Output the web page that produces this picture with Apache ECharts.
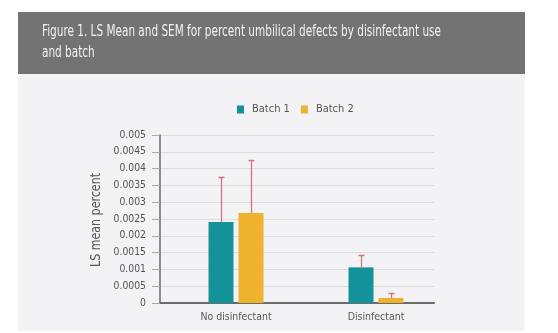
<!DOCTYPE html>
<html>
<head>
<meta charset="utf-8">
<script src="https://cdn.jsdelivr.net/npm/echarts@6/dist/echarts.min.js"></script>
<style>
html,body{margin:0;padding:0;background:#fff;}
#c{width:558px;height:333px;}
</style>
</head>
<body>
<div id="c"></div>
<script>
var categories = ['No disinfectant', 'Disinfectant'];
var seriesNames = ['Batch 1', 'Batch 2'];
var batch1Mean = [0.00241, 0.00106];
var batch2Mean = [0.00268, 0.00015];
var batch1Upper = [0.00375, 0.00143];
var batch2Upper = [0.00426, 0.00030];
var yTicks = [0, 0.0005, 0.001, 0.0015, 0.002, 0.0025, 0.003, 0.0035, 0.004, 0.0045, 0.005];
var titleText = 'Figure 1. LS Mean and SEM for percent umbilical defects by disinfectant use\nand batch';
var yAxisName = 'LS mean percent';

// pick an available narrow font
var cvs = document.createElement('canvas').getContext('2d');
function w(text, font) { cvs.font = font; return cvs.measureText(text).width; }
function available(name) {
  var s = 'abcdefghijklmnopqrstuvwxyz0123456789';
  return w(s, '50px "' + name + '", monospace') !== w(s, '50px monospace') ||
         w(s, '50px "' + name + '", serif') !== w(s, '50px serif');
}
var FAM = ['Liberation Sans Narrow', 'DejaVu Sans Condensed', 'Liberation Sans'].filter(available)[0] || 'sans-serif';
var FONT = '"' + FAM + '", sans-serif';
function fit(text, target) { return target / w(text, '100px ' + FONT) * 100; }

var titleSize = 16;
var titleScale = 399 / w(titleText.split('\n')[0], titleSize + 'px ' + FONT);
var yNameSize = 14;
var yNameScale = 94 / w(yAxisName, yNameSize + 'px ' + FONT);
var xLabSize = Math.min(12, fit('No disinfectant', 62) * 1.15);
var yLabSize = Math.min(11.5, fit('0.0045', 29) * 1.12);
var legSize = Math.min(12.5, fit('Batch 1', 33) * 1.15);

var teal = '#14929a';
var gold = '#eeb22f';
var errColor = '#d9737c';

function errSeries(name, means, uppers, offset) {
  return {
    type: 'custom',
    name: name + ' SEM',
    xAxisIndex: 1, yAxisIndex: 1,
    silent: true, z: 5,
    data: categories.map(function (c, i) { return [i, means[i], uppers[i]]; }),
    renderItem: function (params, api) {
      var lo = api.coord([api.value(0), api.value(1)]);
      var hi = api.coord([api.value(0), api.value(2)]);
      var x = Math.round(lo[0] + offset) + 0.5;
      var y = Math.round(hi[1]) + 0.5;
      return {
        type: 'group',
        children: [
          { type: 'line', shape: { x1: x, y1: lo[1], x2: x, y2: y }, style: { stroke: errColor, lineWidth: 1.3 } },
          { type: 'line', shape: { x1: x - 3, y1: y, x2: x + 3, y2: y }, style: { stroke: errColor, lineWidth: 1.5 } }
        ]
      };
    }
  };
}

var chart = echarts.init(document.getElementById('c'), null, { renderer: 'canvas' });
chart.setOption({
  animation: false,
  backgroundColor: '#ffffff',
  graphic: [
    { type: 'rect', shape: { x: 18, y: 74, width: 507, height: 257 }, style: { fill: '#f3f2f4' }, z: -10 },
    { type: 'rect', shape: { x: 18, y: 12, width: 507, height: 62 }, style: { fill: '#737373' }, z: -10 },
    { type: 'text', x: 42, y: 21, scaleX: titleScale, z: 10,
      style: { text: titleText, fill: '#f2f2f2', font: titleSize + 'px ' + FONT, lineHeight: 21 } },
    { type: 'text', x: 96, y: 220, rotation: Math.PI / 2, scaleX: yNameScale, z: 10,
      style: { text: yAxisName, fill: '#555', font: yNameSize + 'px ' + FONT, align: 'center', verticalAlign: 'middle' } }
  ],
  legend: {
    data: seriesNames,
    left: 237, top: 104, padding: 0,
    icon: 'rect', itemWidth: 7, itemHeight: 8, itemGap: 11,
    textStyle: { fontFamily: FONT, fontSize: legSize, color: '#555', padding: [0, 0, 0, 3] }
  },
  grid: [
    { left: 160, right: 124, top: 135, bottom: 30, containLabel: false },
    { left: 166, right: 112, top: 135, bottom: 30, containLabel: false }
  ],
  xAxis: [
    { type: 'category', gridIndex: 0, data: categories, axisLine: { lineStyle: { color: '#6b6b6b', width: 2 } }, axisTick: { show: false }, axisLabel: { show: false } },
    { type: 'category', gridIndex: 1, data: categories, axisLine: { show: false }, axisTick: { show: false },
      axisLabel: { fontFamily: FONT, fontSize: xLabSize, color: '#555', margin: 9 } }
  ],
  yAxis: [
    { type: 'value', gridIndex: 0, min: 0, max: 0.005, interval: 0.0005,
      axisLine: { show: true, lineStyle: { color: '#6b6b6b', width: 1.5 } },
      axisTick: { show: true, length: 8, lineStyle: { color: '#aaa' } },
      axisLabel: { fontFamily: FONT, fontSize: yLabSize, color: '#555', margin: 14,
        formatter: function (v) { var i = yTicks.findIndex(function (t) { return Math.abs(t - v) < 1e-9; }); return i >= 0 ? String(yTicks[i]) : ''; } },
      splitLine: { show: true, lineStyle: { color: '#dcdcdc', width: 1 } } },
    { type: 'value', gridIndex: 1, min: 0, max: 0.005, interval: 0.0005, show: false, splitLine: { show: false } }
  ],
  series: [
    { type: 'bar', name: seriesNames[0], xAxisIndex: 1, yAxisIndex: 1, data: batch1Mean, barWidth: 25, barGap: '20%', itemStyle: { color: teal }, z: 3 },
    { type: 'bar', name: seriesNames[1], xAxisIndex: 1, yAxisIndex: 1, data: batch2Mean, barWidth: 25, barGap: '20%', itemStyle: { color: gold }, z: 3 },
    errSeries(seriesNames[0], batch1Mean, batch1Upper, -15),
    errSeries(seriesNames[1], batch2Mean, batch2Upper, 15)
  ]
});
</script>
</body>
</html>
